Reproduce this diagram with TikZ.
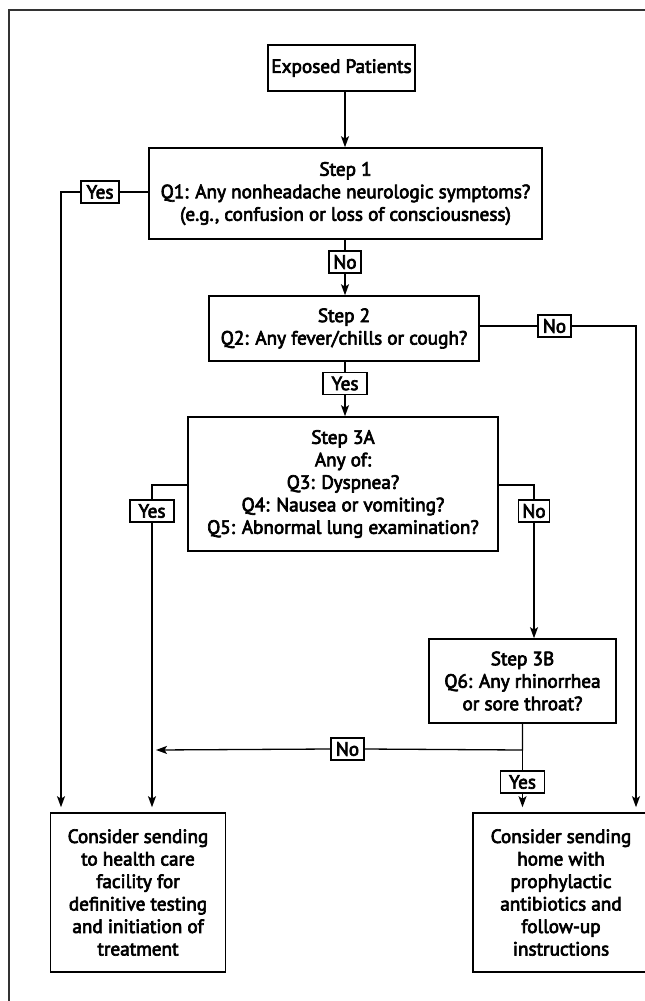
\documentclass[tikz,border=0pt]{standalone}
\usepackage{fontspec}
\setmainfont{PT Sans}[FakeBold=3.5]
\usetikzlibrary{arrows.meta}
\begin{document}
\begin{tikzpicture}[x=1pt,y=-1pt,
  font=\fontsize{19.2}{22.5}\selectfont,
  box/.style={draw, line width=1.6pt, align=center, inner sep=0pt},
  lbl/.style={draw, line width=1.3pt, inner sep=0pt, minimum height=22pt, fill=white},
  conn/.style={line width=1.3pt},
  arr/.style={line width=1.3pt, -{Stealth[length=11pt,width=8pt,inset=2.5pt]}},
  frame/.style={line width=1.5pt, draw=black!80}]
\useasboundingbox (0,0) rectangle (645,1001);
\clip (0,0) rectangle (645,1001);
\draw[frame] (9,1001) -- (9,10) -- (650,10);

\node[box, minimum width=147pt, minimum height=46pt] (exp) at (341.5,68) {Exposed Patients};
\node[box, minimum width=393pt, minimum height=91pt] (s1) at (345.5,193.5) {Step 1\\Q1: Any nonheadache neurologic symptoms?\\(e.g., confusion or loss of consciousness)};
\node[box, minimum width=270pt, minimum height=65pt] (s2) at (344,328.5) {Step 2\\Q2: Any fever/chills or cough?};
\node[box, minimum width=310pt, minimum height=134pt] (s3a) at (343,484) {Step 3A\\Any of:\\Q3: Dyspnea?\\Q4: Nausea or vomiting?\\Q5: Abnormal lung examination?};
\node[box, minimum width=187pt, minimum height=84pt] (s3b) at (522.5,681) {Step 3B\\Q6: Any rhinorrhea\\or sore throat?};
\node[box, minimum width=175pt, minimum height=159pt] (outl) at (138,892.5) {Consider sending\\to health care\\facility for\\definitive testing\\and initiation of\\treatment};
\node[box, minimum width=176pt, minimum height=159pt] (outr) at (561,892.5) {Consider sending\\home with\\prophylactic\\antibiotics and\\follow-up\\instructions};

\node[lbl, minimum width=38pt] (y1) at (100,192) {Yes};
\node[lbl, minimum width=32pt] (n1) at (345,262) {No};
\node[lbl, minimum width=33pt] (n2) at (554.5,326) {No};
\node[lbl, minimum width=44pt] (y2) at (345,383.5) {Yes};
\node[lbl, minimum width=44pt] (y3) at (152,511) {Yes};
\node[lbl, minimum width=31pt] (n3) at (534,511) {No};
\node[lbl, minimum width=33pt] (n4) at (347.5,749) {No};
\node[lbl, minimum width=44pt] (y4) at (522.5,782) {Yes};

\coordinate (c1) at (61,192);
\coordinate (c2) at (636,326);
\coordinate (c3) at (152,485);
\coordinate (c4) at (534,485);
\coordinate (j) at (522.5,750);
\coordinate (e4) at (156,750);

\draw[arr] (exp.south -| 345,0) -- (s1.north -| 345,0);
\draw[conn] (s1.south -| n1) -- (n1.north);
\draw[arr] (n1.south) -- (s2.north -| n1);
\draw[conn] (s1.west |- y1) -- (y1.east);
\draw[arr, shorten >=5pt] (y1.west) -- (c1) -- (c1 |- outl.north);
\draw[conn] (s2.east |- n2) -- (n2.west);
\draw[arr, shorten >=5pt] (n2.east) -- (c2) -- (c2 |- outr.north);
\draw[conn] (s2.south -| y2) -- (y2.north);
\draw[arr] (y2.south) -- (s3a.north -| y2);
\draw[conn] (s3a.west |- c3) -- (c3) -- (y3.north);
\draw[arr, shorten >=5pt] (y3.south) -- (y3.south |- outl.north);
\draw[conn] (s3a.east |- c4) -- (c4) -- (n3.north);
\draw[arr] (n3.south) -- (n3.south |- s3b.north);
\draw[conn] (s3b.south -| j) -- (j) -- (n4.east);
\draw[arr] (n4.west) -- (e4);
\draw[conn] (j) -- (y4.north);
\draw[arr, shorten >=5pt] (y4.south) -- (y4.south |- outr.north);
\end{tikzpicture}
\end{document}
